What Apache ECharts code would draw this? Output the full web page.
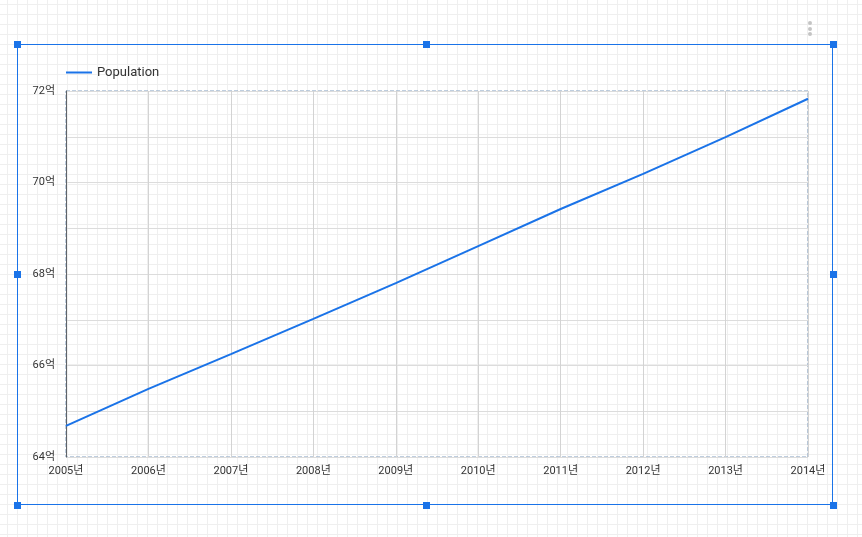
<!DOCTYPE html>
<html>
<head>
<meta charset="utf-8">
<script src="https://cdn.jsdelivr.net/npm/echarts@6/dist/echarts.min.js"></script>
<style>
  html, body { margin: 0; padding: 0; }
  body {
    width: 862px; height: 537px; overflow: hidden; position: relative;
    background-color: #fff;
    background-image:
      linear-gradient(to right, #efefef 1px, transparent 1px),
      linear-gradient(to bottom, #efefef 1px, transparent 1px);
    background-size: 10px 10px;
    background-position: 7px 4px;
    font-family: Roboto, sans-serif;
  }
  #chart { position: absolute; left: 0; top: 0; width: 862px; height: 537px; }
  .frame { position: absolute; left: 17px; top: 44px; width: 816px; height: 461px;
           border: 1px solid #1a73e8; box-sizing: border-box; pointer-events: none; }
  .h { position: absolute; width: 7px; height: 7px; background: #1a73e8; }
  .dots { position: absolute; left: 808px; top: 21px; width: 4px; }
  .dots span { display: block; width: 4px; height: 4px; border-radius: 2px; background: #c4c4c4; margin-bottom: 1.5px; }
</style>
</head>
<body>
<div id="chart"></div>
<div class="frame"></div>
<div id="handles"></div>
<div class="dots"><span></span><span></span><span></span></div>
<script>
// population, in 억 (100 million)
const years = ['2005', '2006', '2007', '2008', '2009', '2010', '2011', '2012', '2013', '2014'];
const population = [64.68, 65.49, 66.25, 67.02, 67.80, 68.61, 69.42, 70.19, 70.99, 71.83];
const seriesName = 'Population';

// selection handles
const hx = [17, 426, 833];
const hy = [44, 274.5, 505];
const hBox = document.getElementById('handles');
hx.forEach((x, i) => hy.forEach((y, j) => {
  if (i === 1 && j === 1) return;
  const d = document.createElement('div');
  d.className = 'h';
  d.style.left = (x - 3.5) + 'px';
  d.style.top = (y - 3.5) + 'px';
  hBox.appendChild(d);
}));

const chart = echarts.init(document.getElementById('chart'), null, { renderer: 'canvas' });
const option = {
  backgroundColor: 'transparent',
  textStyle: { fontFamily: 'Roboto, "Noto Sans CJK KR", sans-serif' },
  legend: {
    data: [seriesName],
    left: 61,
    top: 61,
    icon: 'rect',
    itemWidth: 26,
    itemHeight: 2,
    itemGap: 10,
    textStyle: { fontSize: 13, color: '#333' }
  },
  grid: {
    left: 66, right: 54, top: 91, bottom: 80,
    show: true,
    borderColor: '#7f9cbf',
    borderWidth: 1,
    borderType: 'dashed'
  },
  xAxis: {
    type: 'category',
    data: years,
    boundaryGap: false,
    axisLine: { show: false },
    axisTick: { show: false },
    axisLabel: {
      color: '#333', fontSize: 11, margin: 9,
      formatter: v => v + '년'
    },
    splitLine: { show: true, lineStyle: { color: '#d3d3d3' } }
  },
  yAxis: {
    type: 'value',
    min: 64, max: 72, interval: 1,
    axisLine: { show: true, lineStyle: { color: '#5f6368', width: 1 } },
    axisTick: { show: false },
    axisLabel: {
      color: '#333', fontSize: 11, margin: 11,
      formatter: v => (v % 2 === 0 ? v + '억' : '')
    },
    splitLine: { show: true, lineStyle: { color: '#dcdcdc' } }
  },
  series: [{
    name: seriesName,
    type: 'line',
    data: population,
    symbol: 'none',
    lineStyle: { color: '#1a73e8', width: 2 },
    itemStyle: { color: '#1a73e8' },
    animation: false
  }]
};
chart.setOption(option);
</script>
</body>
</html>
